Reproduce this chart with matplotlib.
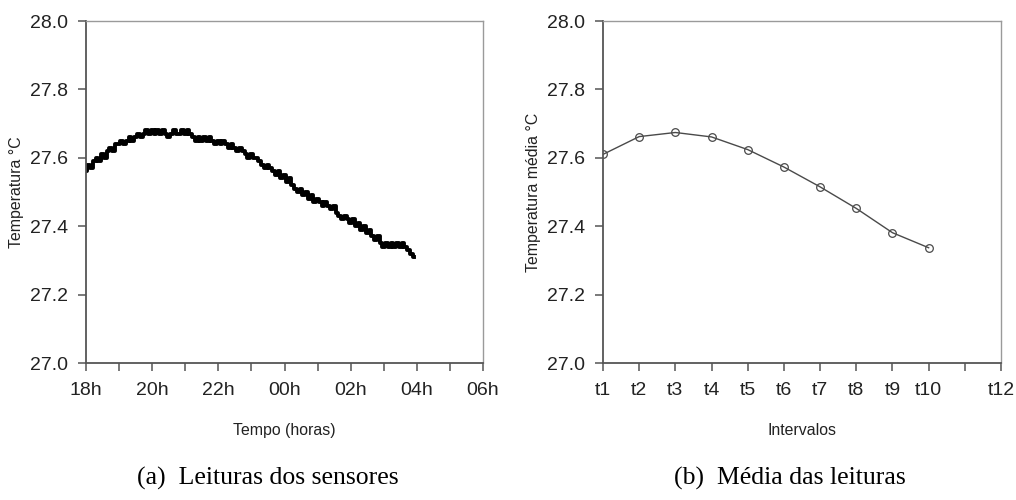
import matplotlib
matplotlib.use("Agg")
import matplotlib.pyplot as plt

# leituras do sensor, a cada 5 minutos a partir das 18h
minutos = list(range(0, 600, 5))
leituras = [
    27.56, 27.58, 27.57, 27.59, 27.60, 27.59, 27.61, 27.60, 27.62, 27.63, 27.62, 27.64,
    27.64, 27.65, 27.64, 27.65, 27.66, 27.65, 27.66, 27.67, 27.66, 27.67, 27.68, 27.67,
    27.68, 27.67, 27.68, 27.67, 27.68, 27.67, 27.66, 27.67, 27.68, 27.67, 27.67, 27.68,
    27.67, 27.68, 27.67, 27.66, 27.65, 27.66, 27.65, 27.66, 27.65, 27.66, 27.65, 27.64,
    27.65, 27.64, 27.65, 27.64, 27.63, 27.64, 27.63, 27.62, 27.63, 27.62, 27.61, 27.60,
    27.61, 27.60, 27.60, 27.59, 27.58, 27.57, 27.58, 27.57, 27.56, 27.55, 27.56, 27.54,
    27.55, 27.53, 27.54, 27.52, 27.51, 27.50, 27.51, 27.49, 27.50, 27.48, 27.49, 27.47,
    27.48, 27.47, 27.46, 27.47, 27.46, 27.45, 27.46, 27.44, 27.43, 27.42, 27.43, 27.42,
    27.41, 27.42, 27.40, 27.41, 27.39, 27.40, 27.38, 27.39, 27.37, 27.36, 27.37, 27.35,
    27.34, 27.35, 27.34, 27.35, 27.34, 27.35, 27.34, 27.35, 27.34, 27.33, 27.32, 27.31,
]
horas_ticks = ['18h', '20h', '22h', '00h', '02h', '04h', '06h']

# medias por intervalo
intervalos = [1, 2, 3, 4, 5, 6, 7, 8, 9, 10]
medias = [27.610, 27.662, 27.674, 27.661, 27.624, 27.573, 27.515, 27.452, 27.381, 27.337]
intervalo_labels = ['t1', 't2', 't3', 't4', 't5', 't6', 't7', 't8', 't9', 't10', '', 't12']

yticks = [27.0, 27.2, 27.4, 27.6, 27.8, 28.0]

plt.rcParams['font.family'] = ['Liberation Sans', 'DejaVu Sans']

fig = plt.figure(figsize=(10.16, 5.0), dpi=100)
ax1 = fig.add_axes([86 / 1016, 1 - 363 / 500, 397 / 1016, 342 / 500])
ax2 = fig.add_axes([603 / 1016, 1 - 363 / 500, 398 / 1016, 342 / 500])


def estilo(ax):
    ax.set_ylim(27.0, 28.0)
    ax.set_yticks(yticks)
    ax.set_yticklabels(['%.1f' % v for v in yticks])
    for s in ['top', 'right']:
        ax.spines[s].set_color('#9a9a9a')
        ax.spines[s].set_linewidth(1.0)
    for s in ['left', 'bottom']:
        ax.spines[s].set_color('#555555')
        ax.spines[s].set_linewidth(1.3)
    ax.tick_params(axis='both', direction='out', length=6, width=1.1,
                   color='#555555', labelsize=14, labelcolor='#222222')
    ax.tick_params(axis='x', pad=8)
    ax.tick_params(axis='y', pad=7)


# (a)
ax1.plot([m / 60 for m in minutos], leituras, color='black', lw=2.8,
         drawstyle='steps-mid')
ax1.set_xlim(0, 12)
ax1.set_xticks(range(0, 13))
ax1.set_xticklabels([horas_ticks[i // 2] if i % 2 == 0 else '' for i in range(13)])
estilo(ax1)
ax1.set_ylabel('Temperatura °C', fontsize=11.4, color='#222222', labelpad=4)
ax1.set_xlabel('Tempo (horas)', fontsize=11.4, color='#222222', labelpad=17)

# (b)
ax2.plot(intervalos, medias, color='#4a4a4a', lw=1.0, marker='o', ms=5.5,
         mfc='none', mec='#4a4a4a', mew=0.9)
ax2.set_xlim(1, 12)
ax2.set_xticks(range(1, 13))
ax2.set_xticklabels(intervalo_labels)
estilo(ax2)
ax2.set_ylabel('Temperatura média °C', fontsize=11.4, color='#222222', labelpad=4)
ax2.set_xlabel('Intervalos', fontsize=11.4, color='#222222', labelpad=17)

fig.text(268 / 1016, 1 - 478 / 500, '(a)  Leituras dos sensores', ha='center', va='center',
         fontsize=18.5, family=['Liberation Serif', 'DejaVu Serif'])
fig.text(790 / 1016, 1 - 478 / 500, '(b)  Média das leituras', ha='center', va='center',
         fontsize=18.5, family=['Liberation Serif', 'DejaVu Serif'])

fig.savefig('out.png', dpi=100)
